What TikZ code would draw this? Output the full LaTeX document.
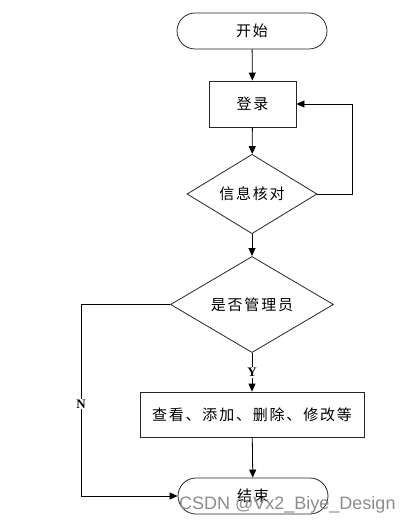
\documentclass[tikz,border=0pt]{standalone}
\usepackage{fontspec}
\setmainfont{Liberation Serif}
\newfontfamily\cjk[LetterSpace=12]{Noto Sans CJK SC}
\newfontfamily\wmfont{Liberation Sans}
\usetikzlibrary{shapes.geometric,arrows.meta}
\begin{document}
\begin{tikzpicture}[x=1pt,y=-1pt,
  base/.style={draw=black!85, line width=0.8pt, font=\cjk\fontsize{15}{17}\selectfont, inner sep=0pt},
  term/.style={base, rectangle, rounded corners=18pt, minimum width=150pt, minimum height=36pt},
  proc/.style={base, rectangle},
  dec/.style={base, diamond},
  arr/.style={line width=0.8pt, -{Triangle[length=8pt,width=7pt]}},
  yn/.style={fill=white, inner sep=1pt, font=\fontsize{13}{13}\selectfont\bfseries}
]
\useasboundingbox (0,0) rectangle (412,525);
\node[term] (start) at (252,31) {开始};
\node[proc, minimum width=87pt, minimum height=46pt] (login) at (252.5,104) {登录};
\node[dec, minimum width=130pt, minimum height=68pt] (check) at (252,194) {信息核对};
\node[dec, minimum width=163pt, minimum height=87pt] (admin) at (252,304.5) {是否管理员};
\node[proc, minimum width=224pt, minimum height=45pt] (ops) at (252,414.5) {查看、添加、删除、修改等};
\node[term] (end) at (253,496) {结束};
\coordinate (fb) at (352,194);
\coordinate (nl) at (81,304.5);

\draw[arr] (start) -- (login);
\draw[arr] (login) -- (check);
\draw[arr] (check.east) -- (fb) |- (login.east);
\draw[arr] (check) -- (admin);
\draw[arr] (admin) -- node[yn] (ylab) {Y} (ops);
\draw[arr] (ops) -- (end);
\draw[arr] (admin.west) -- (nl) |- (end.west);
\node[yn] (nlab) at (81,404) {N};

\node[anchor=west, text=black!45, font=\wmfont\fontsize{18}{18}\selectfont, inner sep=0pt] (wm) at (179,505) {CSDN @Vx2\_Biye\_Design};
\end{tikzpicture}
\end{document}
